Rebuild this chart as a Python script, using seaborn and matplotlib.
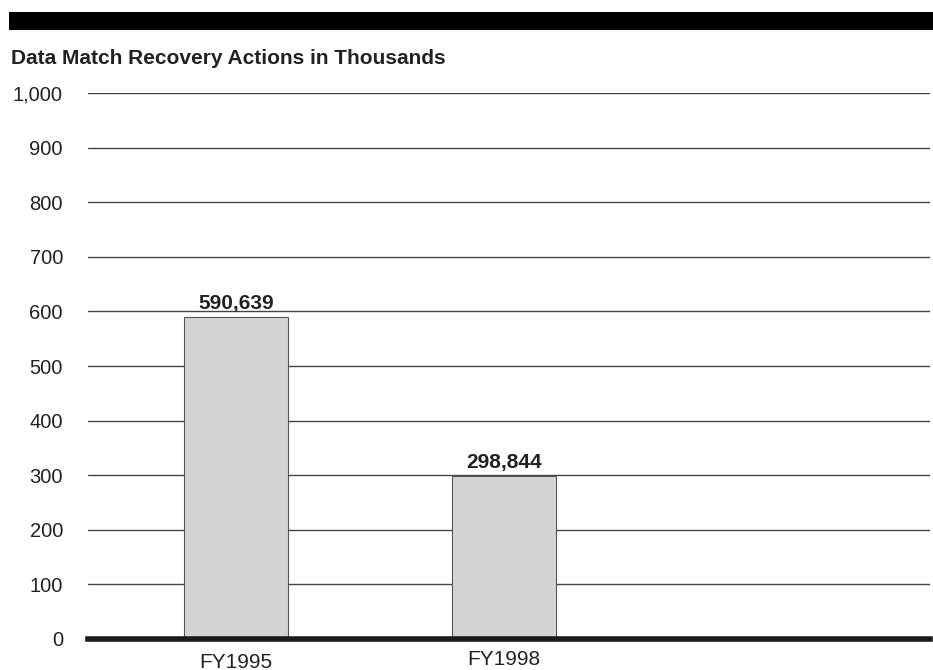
import pandas as pd
import seaborn as sns
import matplotlib.pyplot as plt
import matplotlib.transforms as mtransforms
from matplotlib.patches import Rectangle

# Data (thousands)
years = ['FY1995', 'FY1998']
actions = [590.639, 298.844]
value_labels = ['590,639', '298,844']
y_ticks = [0, 100, 200, 300, 400, 500, 600, 700, 800, 900, 1000]
y_tick_labels = ['0', '100', '200', '300', '400', '500', '600', '700', '800', '900', '1,000']

df = pd.DataFrame({'year': years, 'actions': actions})

sns.set_style('white')
plt.rcParams['font.family'] = ['Liberation Sans', 'DejaVu Sans']

fig = plt.figure(figsize=(9.33, 6.7), dpi=100)
ax = fig.add_axes([0.0943, 0.0463, 0.9025, 0.8147])

sns.barplot(data=df, x='year', y='actions', color='#d3d4d6', width=0.39,
            edgecolor='#555555', linewidth=0.8, saturation=1, ax=ax, zorder=3)

ax.set_ylim(0, 1000)
ax.set_xlim(-0.552, 2.59)
ax.set_yticks(y_ticks)
ax.set_yticklabels(y_tick_labels, fontsize=14.5, color='#222222')
ax.yaxis.grid(True, color='#444444', linewidth=1.0, zorder=0)
ax.set_axisbelow(True)
ax.tick_params(axis='y', length=0, pad=18)
ax.tick_params(axis='x', length=0, labelsize=15, labelcolor='#222222', pad=8)
ax.set_xlabel('')
ax.set_ylabel('')
for side in ['top', 'right', 'left']:
    ax.spines[side].set_visible(False)
ax.spines['bottom'].set_linewidth(4)
ax.spines['bottom'].set_color('#1a1a1a')
ax.spines['bottom'].set_zorder(5)

# FY1995 label sits a little lower in the original
lbls = ax.get_xticklabels()
lbls[0].set_transform(lbls[0].get_transform() +
                      mtransforms.ScaledTranslation(0, -2.5 / 100, fig.dpi_scale_trans))

for bar, txt in zip(ax.patches, value_labels):
    ax.text(bar.get_x() + bar.get_width() / 2, bar.get_height() + 7, txt,
            ha='center', va='bottom', fontsize=15, fontweight='bold', color='#222222')

# black header band and title
fig.patches.append(Rectangle((0.0096, 0.955), 1.0, 0.027, transform=fig.transFigure,
                             facecolor='black', edgecolor='none'))
fig.text(0.012, 0.913, 'Data Match Recovery Actions in Thousands', fontsize=15,
         fontweight='bold', color='#222222', ha='left', va='center')

fig.savefig('out.png', dpi=100)
